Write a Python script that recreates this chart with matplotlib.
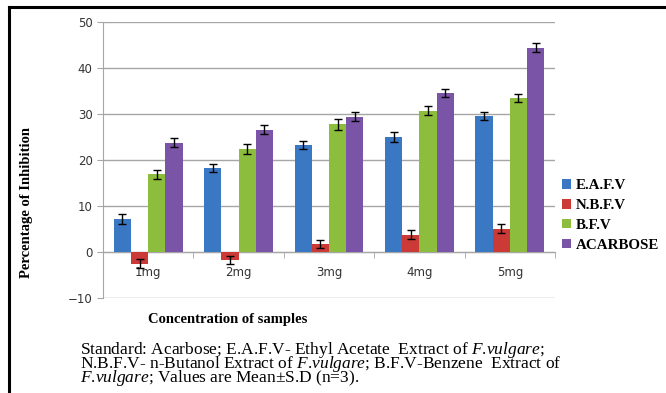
import numpy as np
import matplotlib
matplotlib.use('Agg')
import matplotlib.pyplot as plt
from matplotlib.patches import Patch

categories = ['1mg', '2mg', '3mg', '4mg', '5mg']
series_names = ['E.A.F.V', 'N.B.F.V', 'B.F.V', 'ACARBOSE']
eafv = [7.2, 18.2, 23.3, 25.0, 29.6]
nbfv = [-2.5, -1.8, 1.8, 3.8, 5.1]
bfv = [16.9, 22.4, 27.8, 30.7, 33.5]
acarbose = [23.8, 26.6, 29.4, 34.5, 44.4]
eafv_sd = [1.1, 0.9, 0.8, 1.0, 0.9]
nbfv_sd = [0.9, 0.9, 0.9, 0.9, 0.9]
bfv_sd = [1.0, 1.0, 1.2, 1.0, 0.9]
acarbose_sd = [0.9, 1.0, 1.0, 0.9, 1.0]

colors = ['#3b78c4', '#cc3a37', '#8dbd3c', '#7a54a6']
fv = r'$\mathit{F}$.$\mathit{vulgare}$'
caption = [
    'Standard: Acarbose; E.A.F.V- Ethyl Acetate  Extract of ' + fv + ';',
    'N.B.F.V- n-Butanol Extract of ' + fv + '; B.F.V-Benzene  Extract of',
    fv + r'; Values are Mean$\pm$S.D (n=3).',
]

plt.rcParams['mathtext.fontset'] = 'custom'
plt.rcParams['mathtext.rm'] = 'Liberation Serif'
plt.rcParams['mathtext.it'] = 'Liberation Serif:italic'

fig = plt.figure(figsize=(6.66, 3.93), dpi=100)
ax = fig.add_axes([0.1547, 0.2417, 0.6787, 0.7023])

x = np.arange(len(categories))
w = 0.19
values = [eafv, nbfv, bfv, acarbose]
sds = [eafv_sd, nbfv_sd, bfv_sd, acarbose_sd]
for i, (vals, sd) in enumerate(zip(values, sds)):
    pos = x + (i - 1.5) * w
    ax.bar(pos, vals, w, color=colors[i], edgecolor='none', zorder=3)
    ax.errorbar(pos, vals, yerr=sd, fmt='none', ecolor='black',
                elinewidth=1, capsize=3, capthick=1, zorder=4)

ax.set_xlim(-0.5, len(categories) - 0.5)
ax.set_ylim(-10, 50)
ax.set_yticks(np.arange(-10, 51, 10))
ax.grid(axis='y', color='#a6a6a6', linewidth=1, zorder=0)
ax.set_axisbelow(True)

ax.spines['top'].set_visible(False)
ax.spines['right'].set_visible(False)
ax.spines['left'].set_color('#a6a6a6')
ax.spines['bottom'].set_position(('data', 0))
ax.spines['bottom'].set_color('#a6a6a6')
ax.spines['bottom'].set_zorder(2)

ax.set_xticks(x)
ax.set_xticklabels(categories)
ax.set_xticks(np.arange(-0.5, len(categories), 1.0), minor=True)
ax.tick_params(axis='x', which='major', length=0, pad=10, labelsize=8.5,
               labelcolor='#333333')
ax.tick_params(axis='x', which='minor', length=4, color='#a6a6a6')
ax.tick_params(axis='y', length=4, color='#a6a6a6', labelsize=8.5,
               labelcolor='#333333')

fig.text(0.04, 0.486, 'Percentage of Inhibition', rotation=90,
         ha='center', va='center', family='Liberation Serif',
         fontweight='bold', fontsize=10.5)
fig.text(0.342, 0.186, 'Concentration of samples', ha='center', va='center',
         family='Liberation Serif', fontweight='bold', fontsize=10.5)

handles = [Patch(facecolor=c) for c in colors]
leg = fig.legend(handles, series_names, loc='upper left',
                 bbox_to_anchor=(0.823, 0.578), frameon=False,
                 handlelength=0.6, handleheight=0.6, handletextpad=0.35,
                 labelspacing=0.45,
                 prop={'family': 'Liberation Serif', 'weight': 'bold',
                       'size': 10.8})

fig.text(0.12, 1 - 364 / 393, '\n'.join(caption), ha='left', va='center',
         family='Liberation Serif', fontsize=12.5, linespacing=0.6)

# page frame lines (top and left)
fig.add_artist(plt.Line2D([0.013, 1.0], [0.982, 0.982], color='black',
                          linewidth=2.2, transform=fig.transFigure))
fig.add_artist(plt.Line2D([0.013, 0.013], [0.0, 0.982], color='black',
                          linewidth=2.2, transform=fig.transFigure))

fig.savefig('out.png', dpi=100)
